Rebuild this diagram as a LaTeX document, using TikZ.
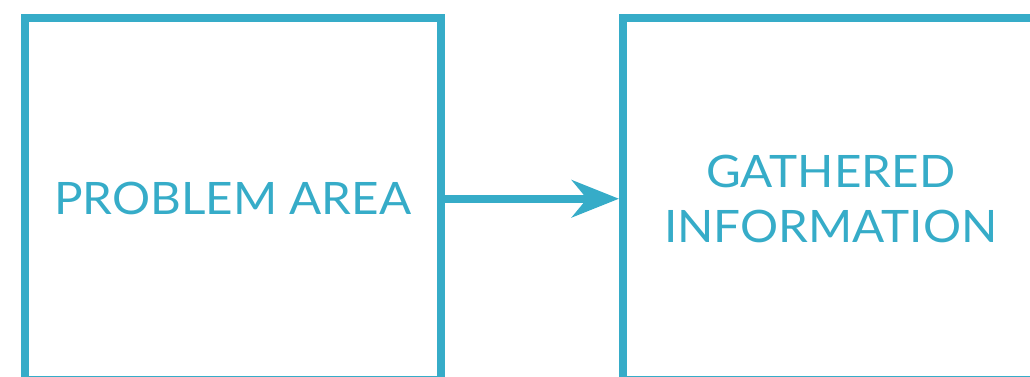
\documentclass[tikz,border=0pt]{standalone}
\usepackage{fontspec}
\setmainfont{Lato}[FakeStretch=1.065]
\usepackage{xcolor}
\usepackage{tikz}
\usetikzlibrary{arrows.meta}
\definecolor{boxblue}{RGB}{54,172,200}

\begin{document}
\begin{tikzpicture}[x=1pt, y=1pt,
  box/.style={draw=boxblue, line width=8pt, minimum width=415.5pt, minimum height=361.5pt,
              inner sep=0pt, align=center, text=boxblue, font=\fontsize{44.7}{55}\selectfont},
  arr/.style={-{Stealth[length=47pt,width=37pt,inset=15pt]}, line width=8pt, draw=boxblue, fill=boxblue}
]
\useasboundingbox (0,0) rectangle (1030,376);
\clip (0,0) rectangle (1030,376);

%% Boxes
\node[box] (prob) at (232.75,177.25) {PROBLEM AREA};
\node[box] (info) at (830.75,177.25) {GATHERED\\INFORMATION};

%% Problem -> Information
\draw[arr] (prob.east) -- (info.west);

\end{tikzpicture}
\end{document}
